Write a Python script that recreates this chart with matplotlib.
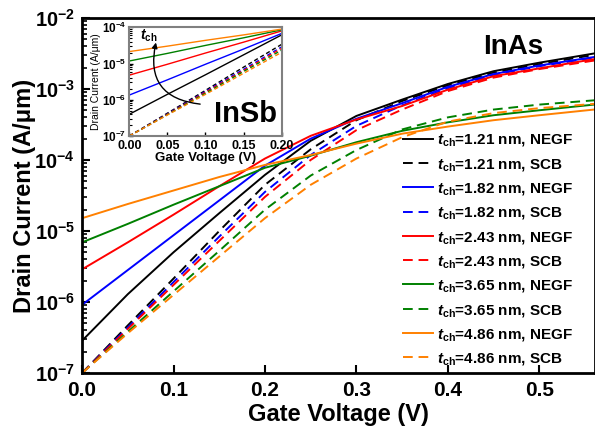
import numpy as np
import matplotlib
matplotlib.use('Agg')
import matplotlib.pyplot as plt

plt.rcParams['font.family'] = ['Liberation Sans', 'DejaVu Sans']
plt.rcParams['font.weight'] = 'bold'
plt.rcParams['mathtext.fontset'] = 'custom'
plt.rcParams['mathtext.rm'] = 'Liberation Sans:bold'
plt.rcParams['mathtext.bf'] = 'Liberation Sans:bold'
plt.rcParams['mathtext.it'] = 'Liberation Sans:italic:bold'
plt.rcParams['mathtext.default'] = 'bf'

# main plot (InAs), gate voltage in V, log10 of drain current in A/um
vg = [0, 0.05, 0.1, 0.15, 0.2, 0.25, 0.3, 0.35, 0.4, 0.45, 0.5, 0.56]

negf_121 = [-6.545, -5.89, -5.30, -4.75, -4.21, -3.73, -3.38, -3.15, -2.93, -2.75, -2.63, -2.50]
negf_182 = [-6.04, -5.55, -5.06, -4.57, -4.08, -3.70, -3.42, -3.20, -2.97, -2.79, -2.67, -2.55]
negf_243 = [-5.54, -5.16, -4.77, -4.37, -3.98, -3.66, -3.43, -3.24, -3.01, -2.82, -2.71, -2.58]
negf_365 = [-5.16, -4.90, -4.63, -4.37, -4.11, -3.94, -3.75, -3.59, -3.47, -3.37, -3.30, -3.22]
negf_486 = [-4.82, -4.62, -4.43, -4.24, -4.07, -3.93, -3.77, -3.63, -3.53, -3.44, -3.37, -3.29]

scb_121 = [-7, -6.33, -5.67, -5.00, -4.35, -3.85, -3.44, -3.17, -2.95, -2.77, -2.65, -2.52]
scb_182 = [-7, -6.36, -5.72, -5.08, -4.45, -3.93, -3.52, -3.23, -2.99, -2.80, -2.68, -2.56]
scb_243 = [-7, -6.38, -5.76, -5.14, -4.52, -4.00, -3.58, -3.29, -3.03, -2.84, -2.72, -2.60]
scb_365 = [-7, -6.42, -5.85, -5.28, -4.70, -4.22, -3.86, -3.57, -3.40, -3.29, -3.22, -3.16]
scb_486 = [-7, -6.44, -5.90, -5.36, -4.82, -4.35, -3.98, -3.68, -3.46, -3.34, -3.27, -3.21]

# inset (InSb)
vg_in = [0, 0.05, 0.1, 0.15, 0.2]
in_negf_121 = [-6.40, -5.85, -5.31, -4.76, -4.21]
in_negf_182 = [-5.87, -5.45, -5.02, -4.60, -4.17]
in_negf_243 = [-5.32, -5.02, -4.71, -4.41, -4.10]
in_negf_365 = [-4.93, -4.72, -4.50, -4.29, -4.07]
in_negf_486 = [-4.67, -4.52, -4.36, -4.21, -4.05]
in_scb_121 = [-7, -6.37, -5.74, -5.10, -4.47]
in_scb_182 = [-7, -6.39, -5.77, -5.16, -4.54]
in_scb_243 = [-7, -6.40, -5.79, -5.19, -4.58]
in_scb_365 = [-7, -6.41, -5.82, -5.22, -4.63]
in_scb_486 = [-7, -6.42, -5.85, -5.27, -4.69]

tch = ['1.21', '1.82', '2.43', '3.65', '4.86']
colors = ['black', 'blue', 'red', 'green', '#ff8000']

negf = [negf_121, negf_182, negf_243, negf_365, negf_486]
scb = [scb_121, scb_182, scb_243, scb_365, scb_486]
in_negf = [in_negf_121, in_negf_182, in_negf_243, in_negf_365, in_negf_486]
in_scb = [in_scb_121, in_scb_182, in_scb_243, in_scb_365, in_scb_486]

fig = plt.figure(figsize=(5.95, 4.34), dpi=100)
ax = fig.add_axes([0.138, 0.1406, 0.862, 0.818])

handles = []
for t, c, yn, ys in zip(tch, colors, negf, scb):
    h1, = ax.plot(vg, 10**np.array(yn), '-', color=c, lw=1.4,
                  label=r'$\mathit{t}_{\mathbf{ch}}$=' + t + ' nm, NEGF')
    h2, = ax.plot(vg, 10**np.array(ys), '--', color=c, lw=1.4, dashes=(5, 3),
                  label=r'$\mathit{t}_{\mathbf{ch}}$=' + t + ' nm, SCB')
    handles += [h1, h2]

ax.set_yscale('log')
ax.set_xlim(0, 0.561)
ax.set_ylim(1e-7, 1e-2)
ax.set_xticks([0, 0.1, 0.2, 0.3, 0.4, 0.5])
ax.set_xticklabels(['0.0', '0.1', '0.2', '0.3', '0.4', '0.5'])
ax.tick_params(axis='both', which='major', direction='in', length=6, width=1.5, labelsize=15, pad=6)
ax.tick_params(axis='y', which='major', labelsize=14.5, pad=5)
ax.tick_params(axis='y', which='minor', direction='in', length=3.5, width=1.2)
for s in ax.spines.values():
    s.set_linewidth(2)
ax.set_xlabel('Gate Voltage (V)', fontsize=17, fontweight='bold', labelpad=2)
ax.set_ylabel('Drain Current (A/μm)', fontsize=17, fontweight='bold', labelpad=-1)

ax.text(0.471, 10**-2.41, 'InAs', fontsize=20, fontweight='bold', ha='center', va='center')

fig.legend(handles=handles, loc='upper left', bbox_to_anchor=(0.677, 0.695), frameon=False,
           fontsize=11, handlelength=2.0, handletextpad=0.25, labelspacing=0.545, borderpad=0,
           borderaxespad=0)

# inset
axi = fig.add_axes([0.2173, 0.6866, 0.2561, 0.2505])
for c, yn, ys in zip(colors, in_negf, in_scb):
    axi.plot(vg_in, 10**np.array(yn), '-', color=c, lw=1.0)
    axi.plot(vg_in, 10**np.array(ys), '--', color=c, lw=1.0, dashes=(3, 2))
axi.set_yscale('log')
axi.set_xlim(0, 0.2)
axi.set_ylim(1e-7, 1e-4)
axi.set_xticks([0, 0.05, 0.1, 0.15, 0.2])
axi.set_xticklabels(['0.00', '0.05', '0.10', '0.15', '0.20'])
axi.tick_params(axis='both', which='major', direction='in', length=3, width=1, labelsize=9, pad=2)
axi.tick_params(axis='x', which='major', pad=3)
axi.tick_params(axis='y', which='major', labelsize=8.5)
axi.tick_params(axis='y', which='minor', direction='in', length=2, width=0.8)
for s in axi.spines.values():
    s.set_color('#808080')
    s.set_linewidth(1.5)
axi.set_xlabel('Gate Voltage (V)', fontsize=9.5, fontweight='bold', labelpad=0)
axi.set_ylabel('Drain Current (A/μm)', fontsize=7.5, fontweight='normal', labelpad=1)
axi.text(0.152, 10**-6.38, 'InSb', fontsize=21, fontweight='bold', ha='center', va='center')
axi.text(0.014, 10**-4.33, r'$\mathit{t}_{\mathbf{ch}}$', fontsize=10)
axi.annotate('', xy=(0.035, 10**-4.42), xytext=(0.093, 10**-6.12),
             arrowprops=dict(arrowstyle='-|>', connectionstyle='arc3,rad=-0.55',
                             color='black', lw=1.0, mutation_scale=8,
                             shrinkA=0, shrinkB=0))

fig.savefig('out.png', dpi=100)
